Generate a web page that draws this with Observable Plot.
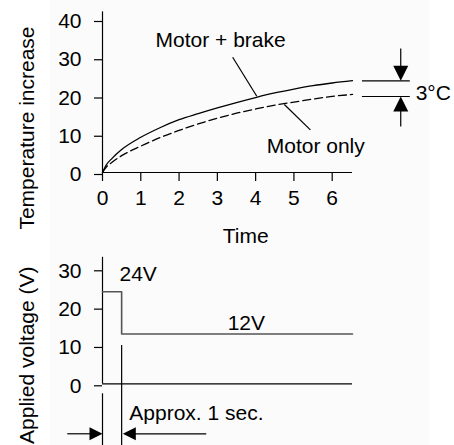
<!DOCTYPE html>
<html><head><meta charset="utf-8">
<script src="https://cdn.jsdelivr.net/npm/d3@7"></script>
<script src="https://cdn.jsdelivr.net/npm/@observablehq/plot@0.6"></script>
<style>
body{margin:0;background:#fff;}
#wrap{position:relative;width:454px;height:445px;overflow:hidden;}
#panel{position:absolute;left:50px;top:0;width:379px;height:445px;background:#fbfbfb;}
#charts{position:absolute;left:0;top:0;width:454px;}
</style></head><body>
<div id="wrap"><div id="panel"></div><div id="charts"></div></div>
<script>
// ---- data ----
const time       = [0, 0.1, 0.25, 0.5, 1, 1.5, 2, 2.5, 3, 3.5, 4, 4.5, 5, 5.5, 6, 6.53];
const motorBrake = [0, 2.0, 3.7, 6.0, 9.2, 11.7, 13.8, 15.4, 16.9, 18.3, 19.6, 20.8, 21.8, 22.7, 23.4, 24.0];
const motorOnly  = [0, 1.4, 2.7, 4.4, 6.9, 9.1, 11.0, 12.7, 14.2, 15.5, 16.6, 17.6, 18.4, 19.2, 19.9, 20.4];
const seriesNames = ["Motor + brake", "Motor only"];
const tempTicks = [0, 10, 20, 30, 40];
const timeTicks = [0, 1, 2, 3, 4, 5, 6];
const voltTime = [0, 0.5, 0.5, 6.53];
const voltage  = [24, 24, 13, 13];
const voltTicks = [0, 10, 20, 30];
const voltLabels = ["24V", "12V"];
const diffLabel = "3°C";
const intervalLabel = "Approx. 1 sec.";
const titles = {temp: "Temperature increase", time: "Time", volt: "Applied voltage (V)"};

// ---- build ----
const font = "'Liberation Sans', Arial, Helvetica, sans-serif";
const style = {fontFamily: font, fontSize: "21px", background: "transparent", overflow: "visible", color: "black"};
const tMax = time[time.length - 1];
const rows = time.flatMap((t, i) => [
  {t, v: motorBrake[i], s: seriesNames[0]},
  {t, v: motorOnly[i], s: seriesNames[1]}
]);
const vRows = voltTime.map((t, i) => ({t, v: voltage[i]}));

const topPlot = Plot.plot({
  width: 454, height: 250,
  marginLeft: 102, marginRight: 102, marginTop: 19, marginBottom: 78,
  x: {domain: [0, tMax], axis: null},
  y: {domain: [0, 40], axis: null},
  style,
  marks: [
    Plot.ruleX([0], {y1: 0, y2: 42, stroke: "black", strokeWidth: 1.2}),
    Plot.ruleY([0], {x1: 0, x2: tMax, stroke: "black", strokeWidth: 1.2}),
    Plot.axisY(tempTicks, {tickSize: 8, tickPadding: 13, dy: 2, label: null, strokeWidth: 1.2}),
    Plot.axisX(timeTicks, {tickSize: 9, tickPadding: 9, label: null, strokeWidth: 1.2}),
    Plot.line(rows.filter(d => d.s === seriesNames[0]), {x: "t", y: "v", curve: "monotone-x", stroke: "black", strokeWidth: 1.3}),
    Plot.line(rows.filter(d => d.s === seriesNames[1]), {x: "t", y: "v", curve: "monotone-x", stroke: "black", strokeWidth: 1.3, strokeDasharray: "8,4"}),
    // labels and leaders
    Plot.text([seriesNames[0]], {x: 1.385, y: 32.76, text: d => d, textAnchor: "start", lineAnchor: "bottom"}),
    Plot.link([0], {x1: 3.40, y1: 30.14, x2: 4.03, y2: 19.95, stroke: "black", strokeWidth: 1.2}),
    Plot.text([seriesNames[1]], {x: 4.29, y: 5.05, text: d => d, textAnchor: "start", lineAnchor: "bottom"}),
    Plot.link([0], {x1: 5.43, y1: 11.16, x2: 4.75, y2: 17.78, stroke: "black", strokeWidth: 1.2}),
    // 3°C difference marker
    Plot.ruleY([23.97, 19.87], {x1: 6.79, x2: 8.04, stroke: "black", strokeWidth: 1.2}),
    Plot.link([0], {x1: 7.79, y1: 32.4, x2: 7.79, y2: 25, stroke: "black", strokeWidth: 1.2}),
    Plot.link([0], {x1: 7.79, y1: 12.0, x2: 7.79, y2: 19, stroke: "black", strokeWidth: 1.2}),
    Plot.vector([0], {x: 7.79, y: 23.97, rotate: 180, anchor: "end", shape: "spike", length: 15, r: 7.5, fill: "black", stroke: "none"}),
    Plot.vector([0], {x: 7.79, y: 19.87, rotate: 0, anchor: "end", shape: "spike", length: 15, r: 7.5, fill: "black", stroke: "none"}),
    Plot.text([diffLabel], {x: 8.18, y: 19.08, text: d => d, textAnchor: "start", lineAnchor: "bottom"}),
    // axis titles
    Plot.text([titles.temp], {x: -1.80, y: 11.63, text: d => d, rotate: -90, textAnchor: "middle", lineAnchor: "bottom"}),
    Plot.text([titles.time], {x: 3.74, y: -18.5, text: d => d, textAnchor: "middle", lineAnchor: "bottom"})
  ]
});

const botPlot = Plot.plot({
  width: 454, height: 195,
  marginLeft: 102, marginRight: 102, marginTop: 18.3, marginBottom: 61.7,
  x: {domain: [0, tMax], axis: null},
  y: {domain: [0, 30], axis: null},
  style,
  marks: [
    Plot.ruleX([0], {y1: 0, y2: 33, stroke: "black", strokeWidth: 1.2}),
    Plot.ruleY([0], {x1: 0, x2: tMax, stroke: "black", strokeWidth: 1.2}),
    Plot.axisY(voltTicks, {tickSize: 8, tickPadding: 13, dy: 2, label: null, strokeWidth: 1.2}),
    Plot.line(vRows, {x: "t", y: "v", stroke: "#555", strokeWidth: 1.6}),
    Plot.text([voltLabels[0]], {x: 0.444, y: 26.77, text: d => d, textAnchor: "start", lineAnchor: "bottom"}),
    Plot.text([voltLabels[1]], {x: 3.27, y: 14.09, text: d => d, textAnchor: "start", lineAnchor: "bottom"}),
    // interval marker
    Plot.ruleX([0.5], {y1: 10, y2: -17, stroke: "black", strokeWidth: 1.2}),
    Plot.ruleX([0], {y1: -2.6, y2: -17, stroke: "black", strokeWidth: 1.2}),
    Plot.link([0], {x1: -0.92, y1: -13.04, x2: -0.1, y2: -13.04, stroke: "black", strokeWidth: 1.2}),
    Plot.link([0], {x1: 2.71, y1: -13.04, x2: 0.6, y2: -13.04, stroke: "black", strokeWidth: 1.2}),
    Plot.vector([0], {x: 0, y: -13.04, rotate: 90, anchor: "end", shape: "spike", length: 13, r: 6.5, fill: "black", stroke: "none"}),
    Plot.vector([0], {x: 0.53, y: -13.04, rotate: -90, anchor: "end", shape: "spike", length: 13, r: 6.5, fill: "black", stroke: "none"}),
    Plot.text([intervalLabel], {x: 0.70, y: -9.57, text: d => d, textAnchor: "start", lineAnchor: "bottom"}),
    Plot.text([titles.volt], {x: -1.80, y: 30.6, text: d => d, rotate: -90, textAnchor: "end", lineAnchor: "bottom"})
  ]
});

const charts = document.getElementById("charts");
charts.appendChild(topPlot);
charts.appendChild(botPlot);
</script>
</body></html>
